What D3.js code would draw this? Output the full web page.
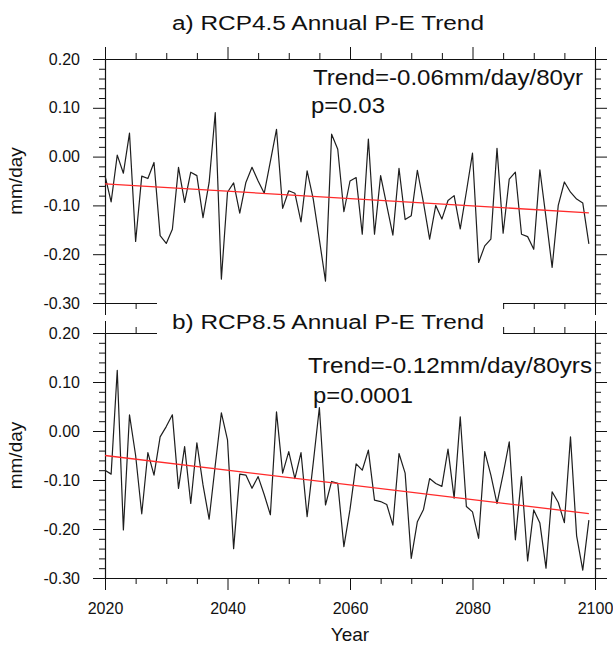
<!DOCTYPE html>
<html>
<head>
<meta charset="utf-8">
<script src="https://cdn.jsdelivr.net/npm/d3@7"></script>
<style>
  body { margin: 0; background: #fff; }
  svg { display: block; }
  text { font-family: "Liberation Sans", Arial, Helvetica, sans-serif; fill: #111; }
</style>
</head>
<body>
<svg id="chart" width="613" height="651"></svg>
<script>
// Annual P-E anomalies (mm/day), 2020-2099
const years = d3.range(2020, 2100);

const peRcp45 = [
  -0.039, -0.093,  0.003, -0.034,  0.048, -0.174, -0.040, -0.045, -0.012, -0.162,
  -0.178, -0.149, -0.022, -0.094, -0.032, -0.039, -0.125, -0.053,  0.090, -0.251,
  -0.073, -0.054, -0.116, -0.053, -0.022, -0.050, -0.075, -0.010,  0.056, -0.106,
  -0.070, -0.075, -0.134, -0.029, -0.087, -0.170, -0.255,  0.046,  0.015, -0.113,
  -0.050, -0.043, -0.159,  0.036, -0.159, -0.039, -0.100, -0.161, -0.024, -0.129,
  -0.121, -0.028, -0.095, -0.169, -0.100, -0.128, -0.090, -0.080, -0.148, -0.072,
   0.007, -0.217, -0.183, -0.169,  0.017, -0.157, -0.046, -0.032, -0.159, -0.164,
  -0.190, -0.027, -0.125, -0.227, -0.100, -0.052, -0.073, -0.087, -0.095, -0.179
];

const peRcp85 = [
  -0.080, -0.088,  0.124, -0.202,  0.033, -0.050, -0.169, -0.044, -0.090, -0.012,
   0.009,  0.033, -0.117, -0.032, -0.148, -0.024, -0.110, -0.180, -0.070,  0.037,
  -0.018, -0.240, -0.088, -0.090, -0.117, -0.093, -0.130, -0.171,  0.039, -0.086,
  -0.042, -0.097, -0.044, -0.175, -0.065,  0.048, -0.151, -0.103, -0.107, -0.236,
  -0.160, -0.067, -0.080, -0.039, -0.141, -0.144, -0.150, -0.192, -0.046, -0.086,
  -0.260, -0.185, -0.160, -0.097, -0.107, -0.113, -0.037, -0.137,  0.029, -0.154,
  -0.165, -0.219, -0.042, -0.090, -0.148, -0.088, -0.022, -0.222, -0.093, -0.265,
  -0.161, -0.188, -0.280, -0.124, -0.146, -0.187, -0.012, -0.214, -0.284, -0.182
];

// Linear trends: value in 2020 and change per 80 years
const trendRcp45 = { start: -0.056, per80: -0.06 };
const trendRcp85 = { start: -0.050, per80: -0.12 };

const panelTitles = ["a) RCP4.5 Annual P-E Trend", "b) RCP8.5 Annual P-E Trend"];
const trendLabels = ["Trend=-0.06mm/day/80yr", "Trend=-0.12mm/day/80yrs"];
const pLabels = ["p=0.03", "p=0.0001"];

const yMajor = [0.20, 0.10, 0.00, -0.10, -0.20, -0.30];
const xMajor = [2020, 2040, 2060, 2080, 2100];

const svg = d3.select("#chart");
const left = 105, right = 595;

const x = d3.scaleLinear().domain([2020, 2100]).range([left, right]);
const xMinor = d3.range(2020, 2101, 5).filter(v => !xMajor.includes(v));
const yMinor = d3.range(-30, 21, 2).map(v => v / 100).filter(v => !yMajor.some(m => Math.abs(m - v) < 1e-9));

const panels = [
  { top: 59, bottom: 303, data: peRcp45, trend: trendRcp45 },
  { top: 333, bottom: 578, data: peRcp85, trend: trendRcp85 }
];

const fmt = d => (Math.abs(d) < 1e-9 ? 0 : d).toFixed(2);

function styleAxis(g) {
  g.selectAll("path.domain").attr("stroke", "#111").attr("stroke-width", 1.1);
  g.selectAll(".tick line").attr("stroke", "#111").attr("stroke-width", 1);
  g.selectAll(".tick text").attr("font-size", 16).attr("fill", "#222")
    .attr("font-family", "'Liberation Sans', Arial, sans-serif");
}

panels.forEach((p, i) => {
  const y = d3.scaleLinear().domain([-0.30, 0.20]).range([p.bottom, p.top]);
  p.y = y;
  const g = svg.append("g");

  // left axis with labels
  g.append("g").attr("transform", `translate(${left},0)`)
    .call(d3.axisLeft(y).tickValues(yMajor).tickSize(12).tickSizeOuter(0).tickPadding(13).tickFormat(fmt))
    .call(styleAxis);
  g.append("g").attr("transform", `translate(${left},0)`)
    .call(d3.axisLeft(y).tickValues(yMinor).tickSize(6).tickSizeOuter(0).tickFormat(""))
    .call(styleAxis);
  // right axis
  g.append("g").attr("transform", `translate(${right},0)`)
    .call(d3.axisRight(y).tickValues(yMajor).tickSize(12).tickSizeOuter(0).tickFormat(""))
    .call(styleAxis);
  g.append("g").attr("transform", `translate(${right},0)`)
    .call(d3.axisRight(y).tickValues(yMinor).tickSize(6).tickSizeOuter(0).tickFormat(""))
    .call(styleAxis);
  // top axis
  g.append("g").attr("transform", `translate(0,${p.top})`)
    .call(d3.axisTop(x).tickValues(xMajor).tickSize(12).tickSizeOuter(0).tickFormat(""))
    .call(styleAxis);
  g.append("g").attr("transform", `translate(0,${p.top})`)
    .call(d3.axisTop(x).tickValues(xMinor).tickSize(6).tickSizeOuter(0).tickFormat(""))
    .call(styleAxis);
  // bottom axis (labels only on the lower panel)
  g.append("g").attr("transform", `translate(0,${p.bottom})`)
    .call(d3.axisBottom(x).tickValues(xMajor).tickSize(12).tickSizeOuter(0).tickPadding(13)
      .tickFormat(i === 1 ? d3.format("d") : ""))
    .call(styleAxis);
  g.append("g").attr("transform", `translate(0,${p.bottom})`)
    .call(d3.axisBottom(x).tickValues(xMinor).tickSize(6).tickSizeOuter(0).tickFormat(""))
    .call(styleAxis);

  // series
  const line = d3.line().x((d, j) => x(years[j])).y(d => y(d));
  g.append("path").datum(p.data)
    .attr("d", line)
    .attr("fill", "none")
    .attr("stroke", "#1e1e1e")
    .attr("stroke-width", 1.2)
    .attr("stroke-linejoin", "round");

  // trend line
  const tYears = [years[0], years[years.length - 1]];
  const tVals = tYears.map(yr => p.trend.start + p.trend.per80 * (yr - 2020) / 80);
  g.append("path").datum(tVals)
    .attr("d", d3.line().x((d, j) => x(tYears[j])).y(d => y(d)))
    .attr("fill", "none")
    .attr("stroke", "#ff2a2a")
    .attr("stroke-width", 1.3);

  // y axis title
  g.append("text")
    .attr("transform", `translate(22,${(p.top + p.bottom) / 2}) rotate(-90)`)
    .attr("text-anchor", "middle")
    .attr("font-size", 19)
    .text("mm/day");
});

// white band behind the lower panel title breaks the axis lines
svg.append("rect")
  .attr("x", 157).attr("y", 301).attr("width", 346).attr("height", 35)
  .attr("fill", "#fff");

// panel titles
[30, 329].forEach((base, i) => {
  svg.append("text")
    .attr("x", 172).attr("y", base)
    .attr("font-size", 20)
    .attr("textLength", 312).attr("lengthAdjust", "spacingAndGlyphs")
    .text(panelTitles[i]);
});

// trend annotations
const annot = [
  { tx: 313, ty: 85, tl: 270, px: 311, py: 113, pl: 74 },
  { tx: 308, ty: 373, tl: 284, px: 313, py: 403, pl: 100 }
];
annot.forEach((a, i) => {
  svg.append("text").attr("x", a.tx).attr("y", a.ty).attr("font-size", 22)
    .attr("textLength", a.tl).attr("lengthAdjust", "spacingAndGlyphs")
    .text(trendLabels[i]);
  svg.append("text").attr("x", a.px).attr("y", a.py).attr("font-size", 22)
    .attr("textLength", a.pl).attr("lengthAdjust", "spacingAndGlyphs")
    .text(pLabels[i]);
});

// x axis title
svg.append("text")
  .attr("x", 350).attr("y", 641)
  .attr("text-anchor", "middle")
  .attr("font-size", 19)
  .text("Year");
</script>
</body>
</html>
